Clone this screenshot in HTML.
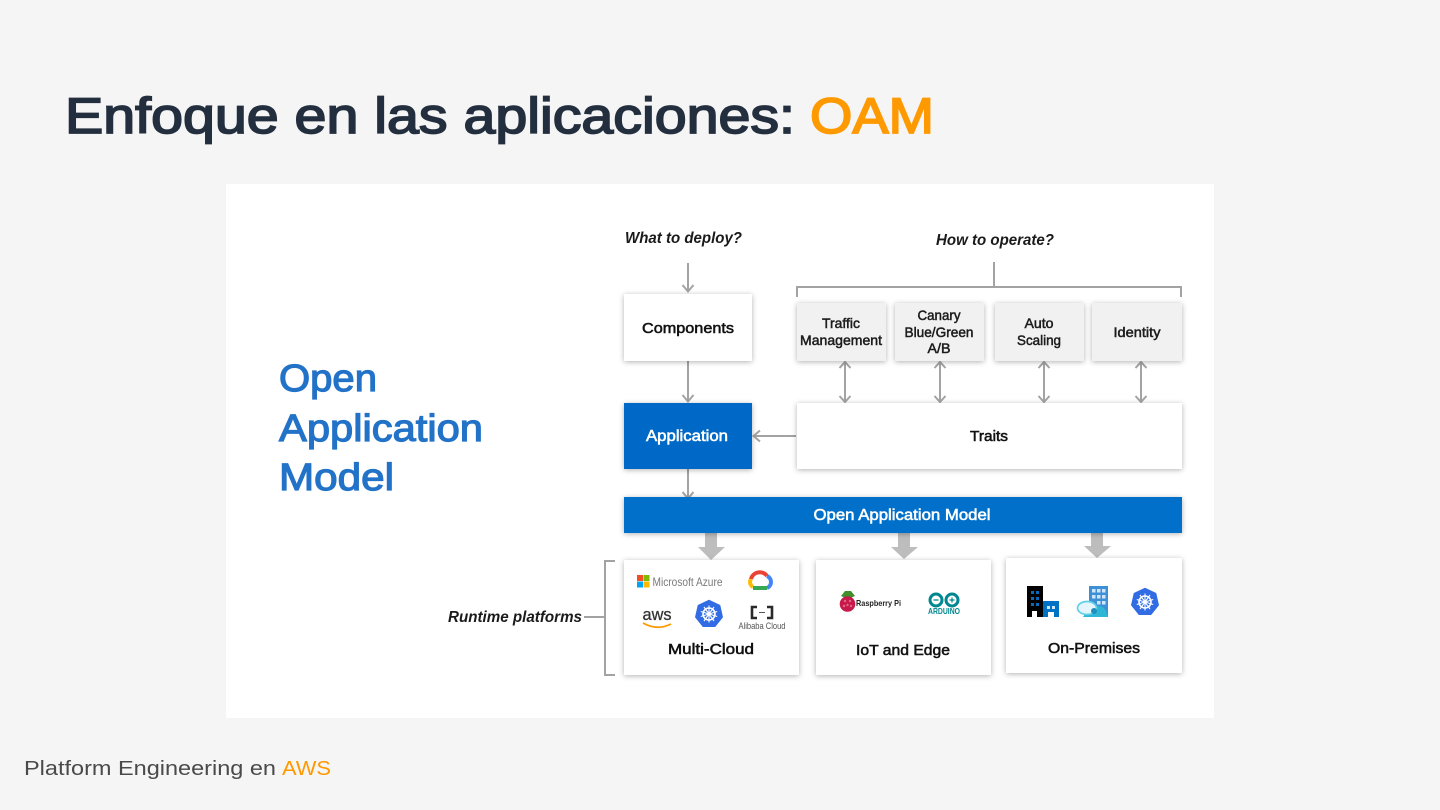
<!DOCTYPE html>
<html lang="es"><head><meta charset="utf-8"><title>Enfoque en las aplicaciones: OAM</title>
<style>
html,body{margin:0;padding:0;background:#f5f5f5;width:1440px;height:810px;overflow:hidden}
svg{display:block}
text{font-family:"Liberation Sans",sans-serif}
.l{font-size:15px;fill:#111;stroke:#111;stroke-width:.55;text-anchor:middle}
.s{font-size:14px;fill:#1c1c1c;stroke:#1c1c1c;stroke-width:.5;text-anchor:middle}
.q{font-size:15.5px;font-weight:bold;font-style:italic;fill:#1a1a1a}
.w{font-size:15.5px;fill:#fff;stroke:#fff;stroke-width:.55;text-anchor:middle}
.a{stroke:#a3a3a3;stroke-width:2;fill:none}
.soft{filter:blur(.35px)}
</style></head><body>
<svg width="1440" height="810" viewBox="0 0 1440 810" xmlns="http://www.w3.org/2000/svg">
<defs>
<filter id="sh" x="-15%" y="-15%" width="130%" height="130%"><feDropShadow dx="0" dy="1" stdDeviation="2.6" flood-color="#000" flood-opacity=".3"/></filter>
<g id="k8s"><polygon points="0,-13.5 10.6,-8.4 13.2,3 5.9,12.2 -5.9,12.2 -13.2,3 -10.6,-8.4" fill="#326ce5" stroke="#326ce5" stroke-width="1.5" stroke-linejoin="round"/><circle r="6" fill="none" stroke="#fff" stroke-width="1.6"/><path d="M0-8.5V8.5M-8.2-2.5L8.2,2.5M8.2-2.5L-8.2,2.5M-5,-7L5,7M5,-7L-5,7" stroke="#fff" stroke-width="1.1"/></g>
</defs>
<rect width="1440" height="810" fill="#f5f5f5"/>
<text x="65" y="133" font-size="50" fill="#232f3e" stroke="#232f3e" stroke-width="1.7" textLength="730" lengthAdjust="spacingAndGlyphs">Enfoque en las aplicaciones:</text>
<text x="810" y="133" font-size="50" fill="#ff9900" stroke="#ff9900" stroke-width="1.7" textLength="124" lengthAdjust="spacingAndGlyphs">OAM</text>
<rect x="226" y="184" width="988" height="534" fill="#fff"/>

<g class="soft">
<g font-size="38" fill="#2272c8" stroke="#2272c8" stroke-width="1.2">
<text x="279" y="391" textLength="98" lengthAdjust="spacingAndGlyphs">Open</text>
<text x="279" y="441" textLength="204" lengthAdjust="spacingAndGlyphs">Application</text>
<text x="279" y="490" textLength="115" lengthAdjust="spacingAndGlyphs">Model</text>
</g>

<text class="q" x="625" y="243" textLength="117" lengthAdjust="spacingAndGlyphs">What to deploy?</text>
<text class="q" x="936" y="245" textLength="118" lengthAdjust="spacingAndGlyphs">How to operate?</text>
<text class="q" x="448" y="622" textLength="134" lengthAdjust="spacingAndGlyphs">Runtime platforms</text>

<!-- connectors -->
<g class="a">
<path d="M688 263V291M682.500 285L688 291.500L693.500 285"/>
<path d="M688 361V401M682.500 395L688 401.500L693.500 395"/>
<path d="M688 469V498M682.500 492L688 498.500L693.500 492"/>
<path d="M796 436H754M760 430.500L753.500 436L760 441.500"/>
<path d="M994 262V287M797 297V287H1181V297"/>
<path d="M605 617H584M615 561H605V675H615"/>
<path d="M845 362V402M839.500 368L845 362L850.500 368M839.500 396L845 402L850.500 396"/>
<path d="M940 362V402M934.500 368L940 362L945.500 368M934.500 396L940 402L945.500 396"/>
<path d="M1044 362V402M1038.500 368L1044 362L1049.500 368M1038.500 396L1044 402L1049.500 396"/>
<path d="M1141 362V402M1135.500 368L1141 362L1146.500 368M1135.500 396L1141 402L1146.500 396"/>
</g>
<g fill="#bdbdbd">
<polygon points="705,533 717,533 717,547 725,547 711,560 698,547 705,547"/>
<polygon points="898,533 910,533 910,547 918,547 904,559 891,547 898,547"/>
<polygon points="1091,533 1103,533 1103,546 1111,546 1097,558 1084,546 1091,546"/>
</g>

<!-- boxes -->
<g filter="url(#sh)">
<rect x="624" y="294" width="128" height="67" fill="#fff"/>
<rect x="797" y="303" width="89" height="58" fill="#f1f1f1"/>
<rect x="895" y="303" width="89" height="58" fill="#f1f1f1"/>
<rect x="995" y="303" width="89" height="58" fill="#f1f1f1"/>
<rect x="1092" y="303" width="90" height="58" fill="#f1f1f1"/>
<rect x="624" y="403" width="128" height="66" fill="#0068c6"/>
<rect x="797" y="403" width="385" height="66" fill="#fff"/>
<rect x="624" y="497" width="558" height="36" fill="#006fcb"/>
<rect x="624" y="560" width="175" height="115" fill="#fff"/>
<rect x="816" y="560" width="175" height="115" fill="#fff"/>
<rect x="1006" y="558" width="176" height="115" fill="#fff"/>
</g>

<text class="l" x="688" y="333" textLength="92" lengthAdjust="spacingAndGlyphs">Components</text>
<text class="s" x="841" y="328" textLength="38" lengthAdjust="spacingAndGlyphs">Traffic</text>
<text class="s" x="841" y="345" textLength="82" lengthAdjust="spacingAndGlyphs">Management</text>
<text class="s" x="939" y="320" textLength="43" lengthAdjust="spacingAndGlyphs">Canary</text>
<text class="s" x="939" y="337" textLength="69" lengthAdjust="spacingAndGlyphs">Blue/Green</text>
<text class="s" x="939" y="353" textLength="23" lengthAdjust="spacingAndGlyphs">A/B</text>
<text class="s" x="1039" y="328" textLength="29" lengthAdjust="spacingAndGlyphs">Auto</text>
<text class="s" x="1039" y="345" textLength="44" lengthAdjust="spacingAndGlyphs">Scaling</text>
<text class="s" x="1137" y="337" textLength="47" lengthAdjust="spacingAndGlyphs">Identity</text>
<text class="w" x="687" y="441" textLength="82" lengthAdjust="spacingAndGlyphs">Application</text>
<text class="l" x="989" y="441" textLength="38" lengthAdjust="spacingAndGlyphs">Traits</text>
<text class="w" x="902" y="520" textLength="177" lengthAdjust="spacingAndGlyphs">Open Application Model</text>
<text class="l" x="711" y="654" textLength="86" lengthAdjust="spacingAndGlyphs">Multi-Cloud</text>
<text class="l" x="903" y="655" textLength="94" lengthAdjust="spacingAndGlyphs">IoT and Edge</text>
<text class="l" x="1094" y="653" textLength="92" lengthAdjust="spacingAndGlyphs">On-Premises</text>

<!-- Multi-cloud logos -->
<rect x="637" y="575" width="6" height="6" fill="#f25022"/><rect x="643.500" y="575" width="6" height="6" fill="#7fba00"/><rect x="637" y="581.500" width="6" height="6" fill="#00a4ef"/><rect x="643.500" y="581.500" width="6" height="6" fill="#ffb900"/>
<text x="652.500" y="586" font-size="12" fill="#7a7a7a" textLength="70" lengthAdjust="spacingAndGlyphs">Microsoft Azure</text>
<g fill="none" stroke-width="4">
<path d="M753 587A5.500 5.500 0 0 1 751 579" stroke="#fbbc04"/>
<path d="M751 579A9 9 0 0 1 767 576" stroke="#ea4335"/>
<path d="M767 576A6.500 6.500 0 0 1 767 588" stroke="#4285f4"/>
<path d="M767 588H753" stroke="#34a853"/>
</g>
<text x="657" y="620" font-size="17" fill="#333" stroke="#333" stroke-width=".3" text-anchor="middle" textLength="29" lengthAdjust="spacingAndGlyphs">aws</text>
<path d="M643 623Q657 631 671 624" stroke="#f90" stroke-width="1.800" fill="none"/>
<use href="#k8s" x="709" y="614"/>
<path d="M757 607H752V618H757M767 607H772V618H767" fill="none" stroke="#2a2a2a" stroke-width="2.600"/><path d="M759 612.500H765" stroke="#555" stroke-width="1"/>
<text x="762" y="629" font-size="9.500" fill="#555" text-anchor="middle" textLength="47" lengthAdjust="spacingAndGlyphs">Alibaba Cloud</text>

<!-- IoT logos -->
<path d="M841 596L848 599L855 596L851 591H845Z" fill="#3f8f2a"/>
<circle cx="847.500" cy="604" r="7.800" fill="#c51a4a"/>
<g fill="#e8628a"><circle cx="845" cy="601" r="1.200"/><circle cx="850" cy="601" r="1.200"/><circle cx="847.500" cy="605" r="1.200"/><circle cx="844" cy="606" r="1.200"/><circle cx="851" cy="606" r="1.200"/></g>
<text x="856" y="606" font-size="8.500" font-weight="bold" fill="#222" textLength="45" lengthAdjust="spacingAndGlyphs">Raspberry Pi</text>
<g fill="none" stroke="#00878f" stroke-width="3"><circle cx="936" cy="600" r="6"/><circle cx="952" cy="600" r="6"/></g>
<path d="M933.500 600H938.500M949.500 600H954.500M952 597.500V602.500" stroke="#00878f" stroke-width="1.200"/>
<text x="944" y="614" font-size="8" font-weight="bold" fill="#00878f" text-anchor="middle" textLength="32" lengthAdjust="spacingAndGlyphs">ARDUINO</text>

<!-- On-Premises logos -->
<rect x="1027" y="586" width="16" height="31" fill="#000"/>
<rect x="1043" y="601" width="16" height="16" fill="#0072c6"/>
<g fill="#0a6ab8"><rect x="1031" y="591" width="3" height="3"/><rect x="1036" y="591" width="3" height="3"/><rect x="1031" y="597" width="3" height="3"/><rect x="1036" y="597" width="3" height="3"/><rect x="1031" y="603" width="3" height="3"/><rect x="1036" y="603" width="3" height="3"/></g>
<g fill="#cfe8fa"><rect x="1047" y="606" width="3" height="3"/><rect x="1052" y="606" width="3" height="3"/></g>
<rect x="1032" y="611" width="5" height="6" fill="#fff"/><rect x="1048" y="612" width="6" height="5" fill="#fff"/>
<rect x="1089" y="586" width="19" height="31" fill="#3d8fd6"/>
<g fill="#cfe6fa"><rect x="1092" y="589" width="3.500" height="3.500"/><rect x="1097" y="589" width="3.500" height="3.500"/><rect x="1102" y="589" width="3.500" height="3.500"/><rect x="1092" y="595" width="3.500" height="3.500"/><rect x="1097" y="595" width="3.500" height="3.500"/><rect x="1102" y="595" width="3.500" height="3.500"/><rect x="1097" y="601" width="3.500" height="3.500"/><rect x="1102" y="601" width="3.500" height="3.500"/></g>
<path d="M1083 617Q1090 606 1098 606Q1106 606 1108 617Z" fill="#2fb5d6"/>
<ellipse cx="1087" cy="608" rx="9.500" ry="6.500" fill="#e4f6fb" stroke="#5fd0e8" stroke-width="1.700"/>
<circle cx="1094" cy="611" r="3" fill="#1f8fc0"/>
<use href="#k8s" x="1145" y="602"/>
</g>

<text x="24" y="775" font-size="20.500" fill="#4a4a4a" textLength="252" lengthAdjust="spacingAndGlyphs">Platform Engineering en</text>
<text x="282" y="775" font-size="20.500" fill="#ff9900" textLength="49" lengthAdjust="spacingAndGlyphs">AWS</text>
</svg>
</body></html>
